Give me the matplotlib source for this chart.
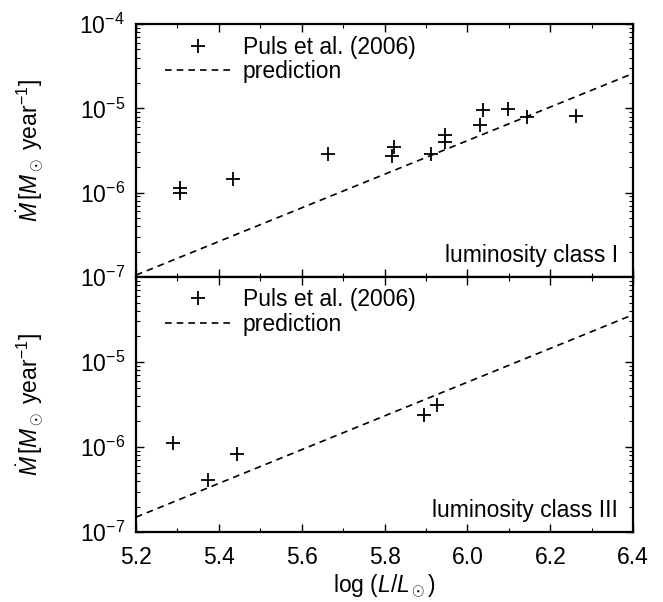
import matplotlib
matplotlib.use("Agg")
from matplotlib import pyplot as plt
from matplotlib.ticker import LogLocator, MultipleLocator, NullFormatter

plt.rcParams['font.family'] = ['Liberation Sans', 'DejaVu Sans']
plt.rcParams['mathtext.fontset'] = 'custom'
plt.rcParams['mathtext.rm'] = 'Liberation Sans'
plt.rcParams['mathtext.it'] = 'Liberation Sans:italic'

# luminosity class I (Puls et al. 2006)
logL_I = [5.306, 5.306, 5.435, 5.663, 5.822, 5.818, 5.912, 5.946, 5.946,
          6.031, 6.037, 6.099, 6.143, 6.263]
mdot_I = [1.15e-6, 0.98e-6, 1.45e-6, 2.9e-6, 3.5e-6, 2.7e-6, 2.9e-6, 4.8e-6,
          4.0e-6, 6.3e-6, 9.5e-6, 9.8e-6, 7.9e-6, 8.2e-6]

# luminosity class III
logL_III = [5.290, 5.375, 5.445, 5.896, 5.926]
mdot_III = [1.12e-6, 4.1e-7, 8.3e-7, 2.4e-6, 3.1e-6]

# prediction lines (straight in log space, end points)
pred_x = [5.2, 6.4]
pred_I = [1.05e-7, 2.6e-5]
pred_III = [1.5e-7, 3.6e-5]

labels = ["luminosity class I", "luminosity class III"]

fs = 16.5
fig = plt.figure(figsize=(6.63, 6.02), dpi=100)
ax1 = fig.add_axes([0.205, 0.540, 0.750, 0.420])
ax2 = fig.add_axes([0.205, 0.116, 0.750, 0.424], sharex=ax1)

panels = [(ax1, logL_I, mdot_I, pred_I, labels[0]),
          (ax2, logL_III, mdot_III, pred_III, labels[1])]

for ax, xs, ys, pred, lab in panels:
    ax.plot(xs, ys, '+', color='black', ms=10, mew=1.3, label='Puls et al. (2006)')
    ax.plot(pred_x, pred, color='black', lw=1.2, ls=(0, (4, 3)), label='prediction')
    ax.set_yscale('log')
    ax.set_xlim(5.2, 6.4)
    ax.set_ylim(1e-7, 1e-4)
    ax.xaxis.set_major_locator(MultipleLocator(0.2))
    ax.xaxis.set_minor_locator(MultipleLocator(0.1))
    ax.yaxis.set_major_locator(LogLocator(base=10, numticks=10))
    ax.yaxis.set_minor_locator(LogLocator(base=10, subs=range(2, 10), numticks=10))
    ax.yaxis.set_minor_formatter(NullFormatter())
    ax.tick_params(which='both', direction='in', top=True, right=True, labelsize=fs)
    ax.tick_params(which='major', length=6, width=1)
    ax.tick_params(which='minor', length=3, width=0.8)
    ax.tick_params(axis='y', pad=8)
    ax.tick_params(axis='x', pad=10)
    for s in ax.spines.values():
        s.set_linewidth(1.6)
    ax.set_ylabel(r'$\dot{M}\,[M_\odot$ year$^{-1}$]', fontsize=fs, labelpad=24)
    ax.text(0.97, 0.04, lab, transform=ax.transAxes, ha='right', va='bottom', fontsize=fs)
    ax.legend(loc='upper left', frameon=False, fontsize=fs, handlelength=2.9,
              handletextpad=0.5, borderaxespad=0.2, borderpad=0.3,
              labelspacing=0.05, bbox_to_anchor=(0.035, 1.0))

plt.setp(ax1.get_xticklabels(), visible=False)
ax2.set_yticks([1e-7, 1e-6, 1e-5])
ax2.yaxis.set_minor_locator(LogLocator(base=10, subs=range(2, 10), numticks=10))
ax2.set_xticks([5.2, 5.4, 5.6, 5.8, 6.0, 6.2, 6.4])
ax2.set_xticklabels(['5.2', '5.4', '5.6', '5.8', '6.0', '6.2', '6.4'])
ax2.set_xlabel(r'log ($L/L_\odot$)', fontsize=fs, labelpad=2)

fig.savefig('out.png', dpi=100)
